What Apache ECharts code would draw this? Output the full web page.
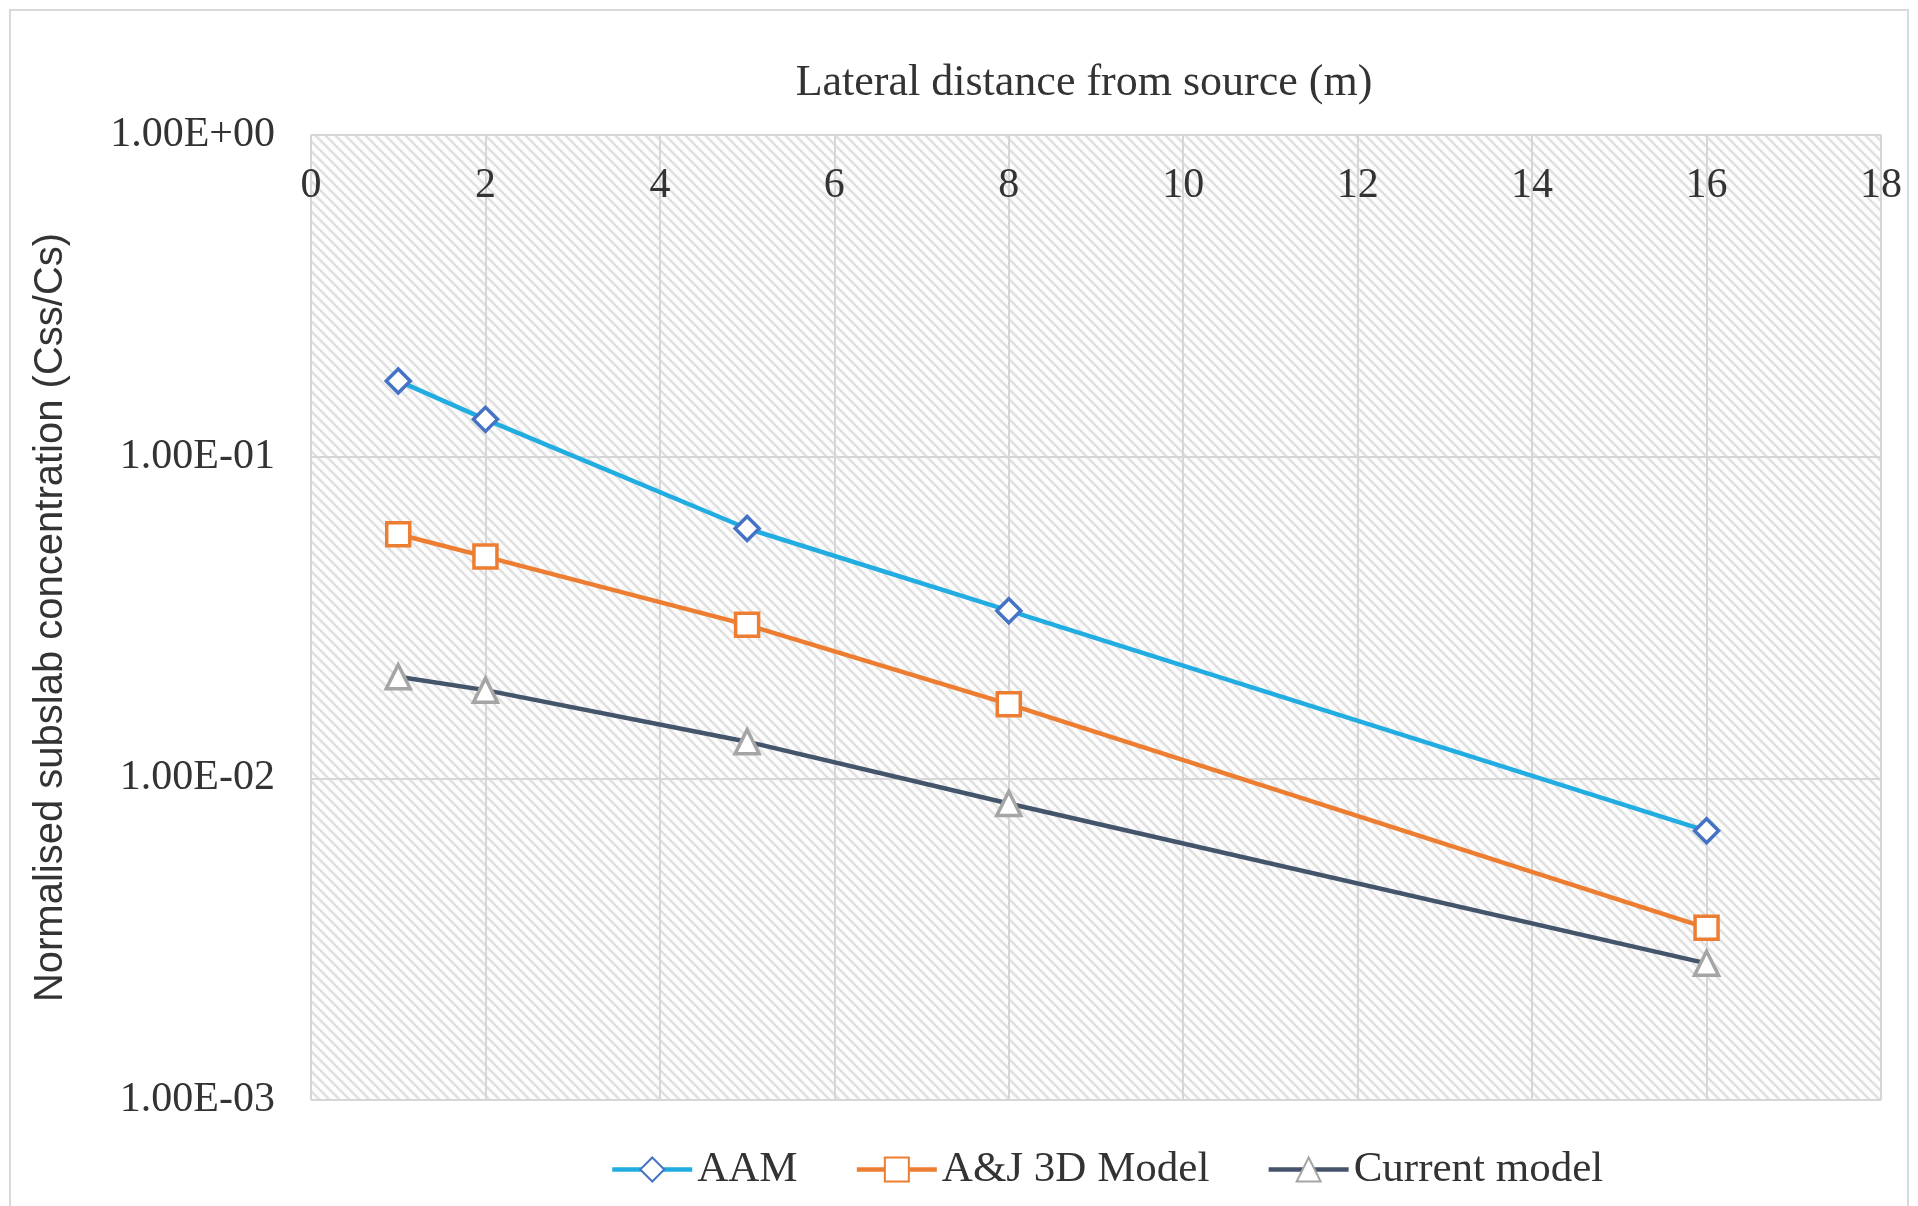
<!DOCTYPE html>
<html>
<head>
<meta charset="utf-8">
<title>Normalised subslab concentration vs lateral distance</title>
<script src="https://cdn.jsdelivr.net/npm/echarts@6/dist/echarts.min.js"></script>
<style>
  html, body { margin: 0; padding: 0; background: #ffffff; }
  #chart { width: 1918px; height: 1206px; }
</style>
</head>
<body>
<div id="chart"></div>
<script>
// Lateral distance from source (m)
const distances = [1, 2, 5, 8, 16];

// Normalised subslab concentration (Css/Cs) per model
const aamValues = [0.172, 0.1306, 0.0598, 0.0332, 0.00687];
const ajValues = [0.0574, 0.0489, 0.0300, 0.0170, 0.00343];
const currentValues = [0.0207, 0.0188, 0.0130, 0.00835, 0.00266];

const seriesNames = ['AAM', 'A&J 3D Model', 'Current model'];

// Log-axis tick labels in scientific notation
const yTickValues = [0.001, 0.01, 0.1, 1];
const yTickLabels = ['1.00E-03', '1.00E-02', '1.00E-01', '1.00E+00'];

const xTickLabels = ['0', '2', '4', '6', '8', '10', '12', '14', '16', '18'];

const SERIF = "'Liberation Serif', 'Times New Roman', serif";
const SANS = "'Liberation Sans', Arial, sans-serif";
const TEXT = '#333333';

// Diagonal hatch fill for the plot area
function makeHatch() {
  const c = document.createElement('canvas');
  c.width = 10; c.height = 10;
  const ctx = c.getContext('2d');
  ctx.fillStyle = '#fdfdfd';
  ctx.fillRect(0, 0, 10, 10);
  ctx.strokeStyle = '#e0e0e0';
  ctx.lineWidth = 2.6;
  for (let k = -1; k <= 1; k++) {
    ctx.beginPath();
    ctx.moveTo(k * 10 - 2, -2);
    ctx.lineTo(k * 10 + 12, 12);
    ctx.stroke();
  }
  return c;
}

function pairs(values) {
  return distances.map((d, i) => [d, values[i]]);
}

function yLabel(v) {
  for (let i = 0; i < yTickValues.length; i++) {
    if (Math.abs(Math.log10(v) - Math.log10(yTickValues[i])) < 1e-6) return yTickLabels[i];
  }
  return '';
}

const chart = echarts.init(document.getElementById('chart'), null, { renderer: 'canvas' });

chart.setOption({
  backgroundColor: '#ffffff',
  animation: false,
  graphic: [{
    type: 'rect',
    shape: { x: 10, y: 10, width: 1898, height: 1210 },
    style: { fill: 'none', stroke: '#d9d9d9', lineWidth: 2 },
    silent: true,
    z: -10
  }],
  grid: {
    left: 311, right: 37, top: 135, bottom: 106,
    show: true,
    backgroundColor: { image: makeHatch(), repeat: 'repeat' },
    borderWidth: 0
  },
  legend: {
    data: seriesNames,
    left: 605,
    top: 1143,
    itemWidth: 80,
    itemHeight: 30,
    itemGap: 57,
    lineStyle: { width: 4.5 },
    textStyle: { fontFamily: SERIF, fontSize: 43, color: TEXT }
  },
  xAxis: {
    type: 'value',
    position: 'top',
    min: 0, max: 18, interval: 2,
    name: 'Lateral distance from source (m)',
    nameLocation: 'middle',
    nameGap: 30,
    nameTextStyle: { fontFamily: SERIF, fontSize: 44, color: TEXT, padding: [0, 24, 0, 0] },
    axisLine: { show: false },
    axisTick: { show: false },
    axisLabel: {
      inside: true, margin: 30,
      fontFamily: SERIF, fontSize: 42, color: TEXT,
      formatter: (v) => xTickLabels[Math.round(v / 2)]
    },
    splitLine: { show: true, lineStyle: { color: '#d6d6d6', width: 2 } }
  },
  yAxis: {
    type: 'log',
    logBase: 10,
    min: 0.001, max: 1,
    name: 'Normalised subslab concentration (Css/Cs)',
    nameLocation: 'middle',
    nameGap: 240,
    nameTextStyle: { fontFamily: SANS, fontSize: 40, color: TEXT },
    axisLine: { show: false },
    axisTick: { show: false },
    axisLabel: {
      margin: 36,
      fontFamily: SERIF, fontSize: 42, color: TEXT,
      formatter: yLabel
    },
    splitLine: { show: true, lineStyle: { color: '#d6d6d6', width: 2 } },
    minorSplitLine: { show: false }
  },
  series: [
    {
      name: seriesNames[0],
      type: 'line',
      data: pairs(aamValues),
      symbol: 'diamond',
      symbolSize: 24,
      lineStyle: { color: '#22ADE2', width: 4.5 },
      itemStyle: { color: '#ffffff', borderColor: '#4472C4', borderWidth: 3.5 },
      z: 2
    },
    {
      name: seriesNames[1],
      type: 'line',
      data: pairs(ajValues),
      symbol: 'rect',
      symbolSize: 23,
      lineStyle: { color: '#ED7D31', width: 4.5 },
      itemStyle: { color: '#ffffff', borderColor: '#ED7D31', borderWidth: 3.5 },
      z: 3
    },
    {
      name: seriesNames[2],
      type: 'line',
      data: pairs(currentValues),
      symbol: 'triangle',
      symbolSize: 24,
      lineStyle: { color: '#44546A', width: 4.5 },
      itemStyle: { color: '#ffffff', borderColor: '#A5A5A5', borderWidth: 3.5 },
      z: 4
    }
  ]
});
</script>
</body>
</html>
